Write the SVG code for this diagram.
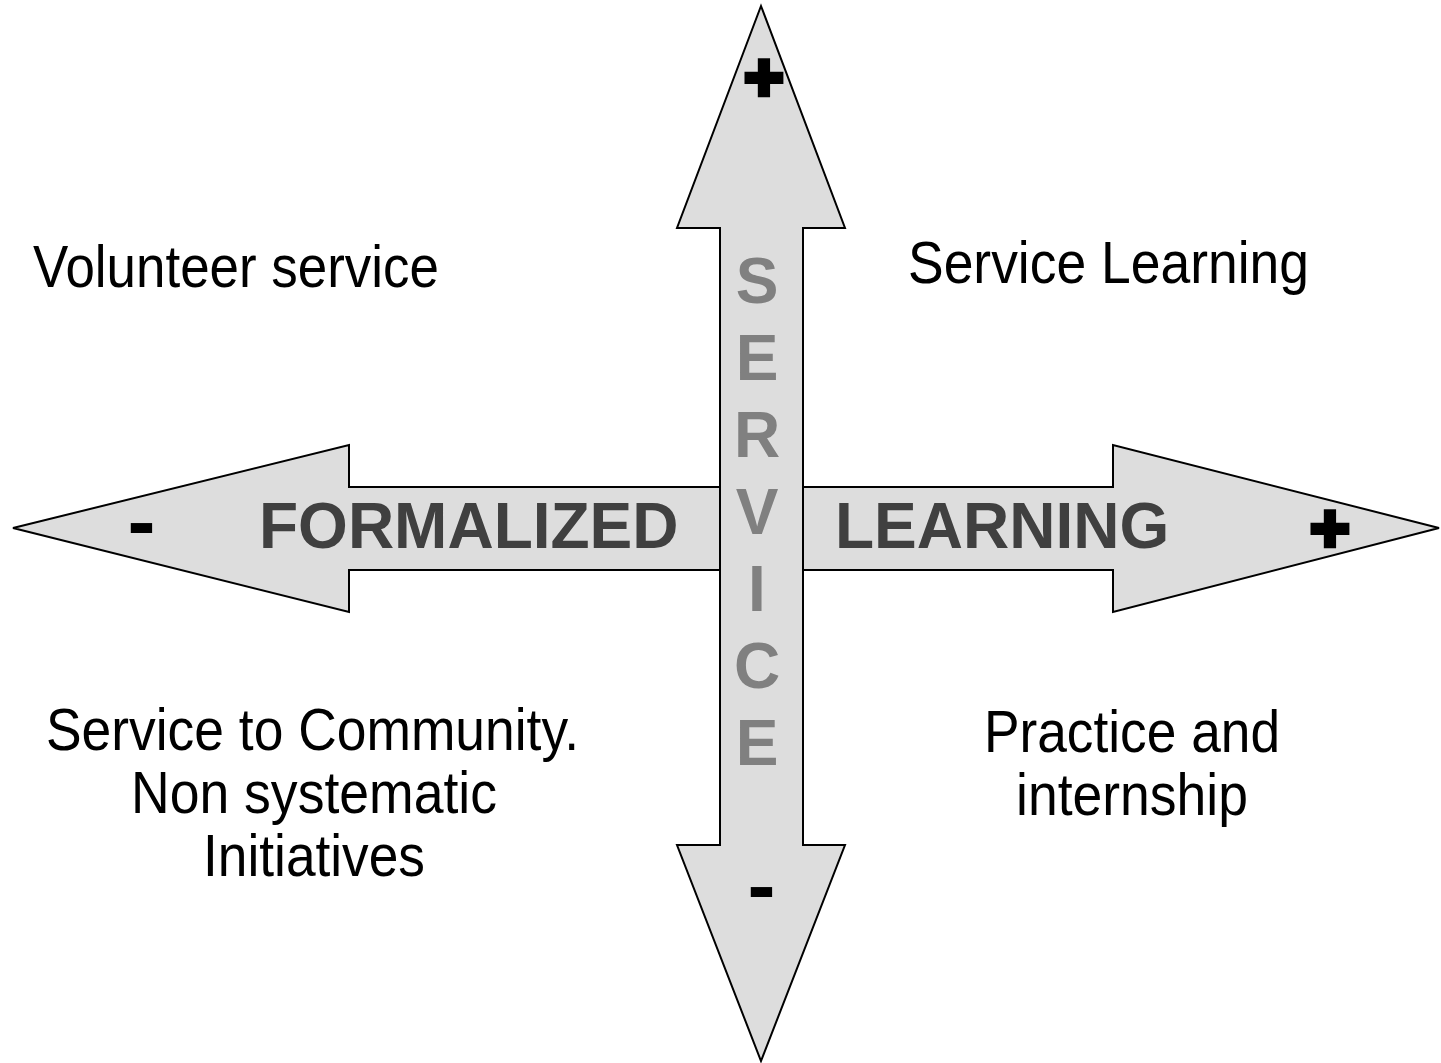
<svg xmlns="http://www.w3.org/2000/svg" width="1441" height="1063" viewBox="0 0 1441 1063">
  <style>
    .axis { fill: #dddddd; stroke: #000000; stroke-width: 2; stroke-linejoin: miter; }
    .label { font-family: "Liberation Sans", Arial, sans-serif; font-size: 60px; fill: #000000; }
    .axis-title { font-family: "Liberation Sans", Arial, sans-serif; font-size: 64px; font-weight: bold; fill: #404040; }
    .axis-vert { font-family: "Liberation Sans", Arial, sans-serif; font-size: 64px; font-weight: bold; fill: #808080; text-anchor: middle; }
    .sign { font-family: "DejaVu Sans", sans-serif; font-size: 50px; fill: #000000; stroke: #000000; stroke-width: 2.5; text-anchor: middle; }
    .minus { font-family: "Liberation Sans", Arial, sans-serif; font-weight: bold; font-size: 84px; fill: #000000; text-anchor: middle; }
    .mid { text-anchor: middle; }
  </style>

  <!-- axes: horizontal double arrow beneath, vertical double arrow on top -->
  <g id="axes">
    <polygon id="axis-learning" class="axis" points="13,528 349,445 349,487 1113,487 1113,445 1439,528 1113,612 1113,570 349,570 349,612"/>
    <polygon id="axis-service" class="axis" points="761,6 845,228 803,228 803,845 845,845 761,1061 677,845 720,845 720,228 677,228"/>
  </g>

  <!-- axis titles -->
  <g id="title-formalized">
    <text class="axis-title" x="259" y="548">FORMALIZED</text>
  </g>
  <g id="title-learning">
    <text class="axis-title" x="835" y="548">LEARNING</text>
  </g>
  <g id="title-service">
    <text class="axis-vert" x="757" y="303">S</text>
    <text class="axis-vert" x="757" y="380">E</text>
    <text class="axis-vert" x="757" y="457">R</text>
    <text class="axis-vert" x="757" y="534">V</text>
    <text class="axis-vert" x="757" y="611">I</text>
    <text class="axis-vert" x="757" y="688">C</text>
    <text class="axis-vert" x="757" y="765">E</text>
  </g>

  <!-- axis end signs -->
  <g id="signs">
    <text class="sign" x="764" y="96">✚</text>
    <text class="sign" x="1330" y="547">✚</text>
    <text class="minus" x="141.5" y="550">-</text>
    <text class="minus" x="761.5" y="914">-</text>
  </g>

  <!-- quadrant labels -->
  <g id="quadrant-volunteer">
    <text class="label" x="33" y="287" textLength="406" lengthAdjust="spacingAndGlyphs">Volunteer service</text>
  </g>
  <g id="quadrant-service-learning">
    <text class="label" x="908" y="283" textLength="401" lengthAdjust="spacingAndGlyphs">Service Learning</text>
  </g>
  <g id="quadrant-community">
    <text class="label mid" x="312.5" y="750" textLength="533" lengthAdjust="spacingAndGlyphs">Service to Community.</text>
    <text class="label mid" x="314" y="813" textLength="366" lengthAdjust="spacingAndGlyphs">Non systematic</text>
    <text class="label mid" x="314" y="876" textLength="222" lengthAdjust="spacingAndGlyphs">Initiatives</text>
  </g>
  <g id="quadrant-practice">
    <text class="label mid" x="1132" y="752" textLength="296" lengthAdjust="spacingAndGlyphs">Practice and</text>
    <text class="label mid" x="1132" y="815" textLength="232" lengthAdjust="spacingAndGlyphs">internship</text>
  </g>
</svg>
